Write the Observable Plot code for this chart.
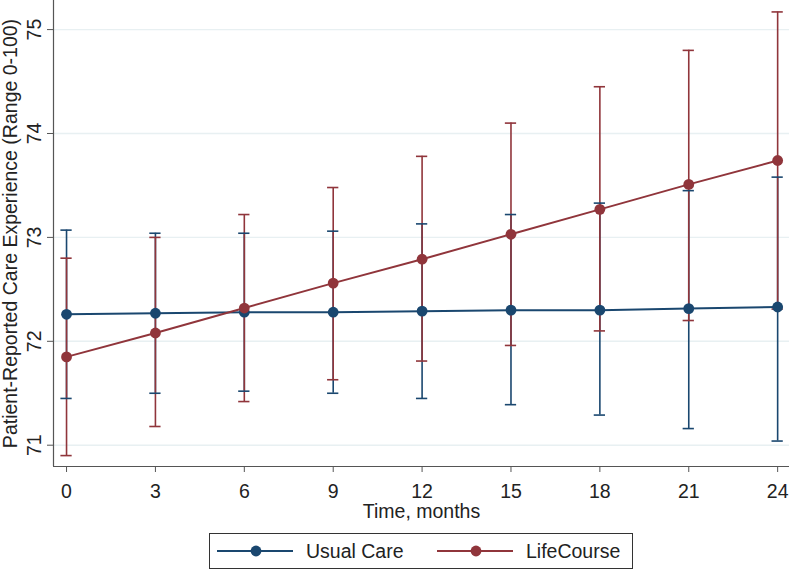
<!DOCTYPE html>
<html>
<head>
<meta charset="utf-8">
<script src="https://cdn.jsdelivr.net/npm/d3@7"></script>
<script src="https://cdn.jsdelivr.net/npm/@observablehq/plot@0.6"></script>
<style>
  html, body { margin: 0; padding: 0; background: #fff; }
  #wrap { position: relative; width: 789px; height: 570px; font-family: "Liberation Sans", Arial, sans-serif; color: #222; }
  #chart svg { display: block; }
  #legend { position: absolute; left: 209px; top: 533px; width: 422px; height: 34px; border: 1px solid #333; background: #fff; }
  .item { position: absolute; top: 0; height: 34px; display: flex; align-items: center; font-size: 19.5px; white-space: nowrap; }
  .item svg { display: block; margin-right: 13px; }
</style>
</head>
<body>
<div id="wrap">
  <div id="chart"></div>
  <div id="legend"></div>
</div>
<script>
// ---- data ----
const months = [0, 3, 6, 9, 12, 15, 18, 21, 24];
const seriesNames = ["Usual Care", "LifeCourse"];
const seriesColors = ["#1a476f", "#90353b"];

const usualMean = [72.26, 72.27, 72.28, 72.28, 72.29, 72.30, 72.30, 72.315, 72.33];
const usualLow  = [71.45, 71.50, 71.52, 71.50, 71.45, 71.39, 71.29, 71.16, 71.04];
const usualHigh = [73.07, 73.04, 73.04, 73.06, 73.13, 73.22, 73.33, 73.45, 73.58];

const lifeMean = [71.85, 72.08, 72.32, 72.56, 72.79, 73.03, 73.27, 73.51, 73.74];
const lifeLow  = [70.90, 71.18, 71.42, 71.63, 71.81, 71.96, 72.10, 72.20, 72.31];
const lifeHigh = [72.80, 73.00, 73.22, 73.48, 73.78, 74.10, 74.45, 74.80, 75.17];

const xTicks = [0, 3, 6, 9, 12, 15, 18, 21, 24];
const yTicks = [71, 72, 73, 74, 75];
const xTitle = "Time, months";
const yTitle = "Patient-Reported Care Experience (Range 0-100)";

// ---- build table ----
const rows = [];
months.forEach((t, i) => rows.push({t, s: seriesNames[0], v: usualMean[i], lo: usualLow[i], hi: usualHigh[i]}));
months.forEach((t, i) => rows.push({t, s: seriesNames[1], v: lifeMean[i], lo: lifeLow[i], hi: lifeHigh[i]}));

const xDomain = [-0.44, 24.4];
const yDomain = [70.795, 75.28];
const capHalf = 0.19;
const axisColor = "#555";

const chart = Plot.plot({
  width: 789,
  height: 527,
  marginLeft: 53,
  marginRight: 0,
  marginTop: 0,
  marginBottom: 61,
  style: { fontFamily: '"Liberation Sans", Arial, sans-serif', fontSize: "19.5px", color: "#222", background: "#fff", overflow: "visible" },
  x: { domain: xDomain },
  y: { domain: yDomain },
  color: { domain: seriesNames, range: seriesColors },
  marks: [
    Plot.gridY(yTicks, { stroke: "#e8f0f2", strokeOpacity: 1, strokeWidth: 1.4 }),
    Plot.ruleX([xDomain[0]], { stroke: axisColor, strokeWidth: 1.2 }),
    Plot.ruleY([yDomain[0]], { stroke: axisColor, strokeWidth: 1.2 }),
    Plot.axisX(xTicks, { tickSize: 6, tickPadding: 12, label: null, stroke: axisColor, tickFormat: d3.format("d") }),
    Plot.axisY(yTicks, { tickSize: 6, tickRotate: -90, tickPadding: 7, label: null, stroke: axisColor, tickFormat: d3.format("d") }),
    Plot.ruleX(rows, { x: "t", y1: "lo", y2: "hi", stroke: "s", strokeWidth: 1.6 }),
    Plot.ruleY(rows, { y: "hi", x1: d => d.t - capHalf, x2: d => d.t + capHalf, stroke: "s", strokeWidth: 1.6 }),
    Plot.ruleY(rows, { y: "lo", x1: d => d.t - capHalf, x2: d => d.t + capHalf, stroke: "s", strokeWidth: 1.6 }),
    Plot.line(rows, { x: "t", y: "v", z: "s", stroke: "s", strokeWidth: 2 }),
    Plot.dot(rows, { x: "t", y: "v", fill: "s", r: 5.4 }),
    Plot.text([xTitle], { frameAnchor: "bottom", textAnchor: "middle", dy: 51, lineAnchor: "bottom" }),
    Plot.text([yTitle], { frameAnchor: "left", textAnchor: "middle", rotate: -90, dx: -37, lineAnchor: "bottom" })
  ]
});
document.getElementById("chart").appendChild(chart);

// ---- legend ----
const legend = document.getElementById("legend");
const legendLeft = [7, 227];
seriesNames.forEach((name, i) => {
  const item = document.createElement("div");
  item.className = "item";
  item.style.left = legendLeft[i] + "px";
  item.innerHTML = `<svg width="76" height="14"><line x1="0" x2="76" y1="7" y2="7" stroke="${seriesColors[i]}" stroke-width="2"/><circle cx="39" cy="7" r="5.4" fill="${seriesColors[i]}"/></svg><span>${name}</span>`;
  legend.appendChild(item);
});
</script>
</body>
</html>
